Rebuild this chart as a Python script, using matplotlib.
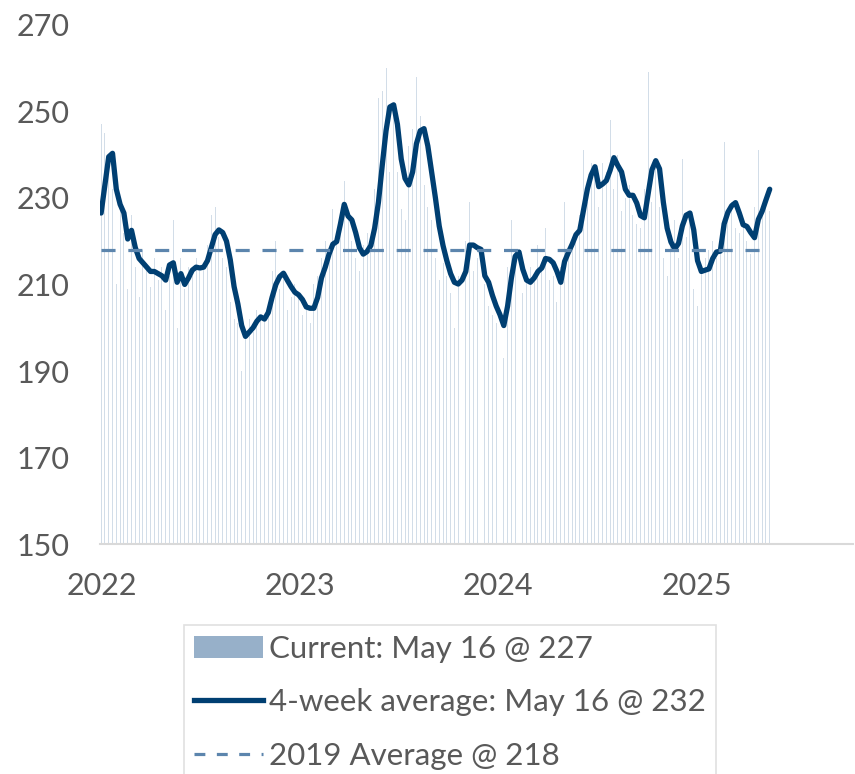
import numpy as np
import pandas as pd
import matplotlib
matplotlib.use("Agg")
import matplotlib.pyplot as plt
from matplotlib.patches import Patch
from matplotlib.lines import Line2D

plt.rcParams['font.family'] = ['Lato', 'DejaVu Sans']

# weekly dates, Dec 31 2021 -> May 16 2025
weeks = pd.date_range("2021-12-31", "2025-05-16", freq="7D")

# weekly readings (bars)
current = [
    247, 245, 238, 232, 210, 230, 222, 209, 226, 214,
    207, 218, 215, 209.5, 216, 211, 214, 204, 212, 225,
    200, 216, 209, 214, 212, 216, 213, 215, 219, 226,
    228, 221, 216, 214, 206, 202, 201, 190, 199, 202,
    199, 204, 203, 202, 206, 213, 220, 209, 212, 204,
    207, 210, 208, 203, 206, 201, 210, 212, 216, 220,
    218, 227.5, 219, 226, 234, 225, 220, 216, 213, 219,
    222, 218, 232, 253, 254.6, 260, 236, 250, 236, 227.5,
    225, 242, 246, 258, 249, 233, 228, 225, 216, 211,
    215, 212, 208, 200, 212, 214, 220, 229, 213, 216,
    207, 210, 205, 203, 201, 206, 193, 214, 225, 216,
    214, 208, 211, 214, 212, 219, 213, 223, 211, 212,
    206, 214, 229, 216, 221, 222, 226, 241, 229, 238,
    235, 228, 238, 236, 248, 232, 240, 227, 230, 233,
    226, 224, 223, 232, 259, 229, 237, 228, 216, 212,
    219, 225, 216, 239, 221, 226, 209, 205, 214, 216,
    218, 220, 216, 218, 243, 226, 229, 223, 222, 224,
    220, 217, 228, 241, 227, 229, 227,
]

# 4-week average (line)
avg4 = [
    226.5, 233, 239.5, 240.3, 232, 228.5, 226.5, 220.5, 222.5, 218.5,
    216, 215, 214, 213, 213, 212.5, 212, 211, 214.5, 215,
    210.5, 212.5, 210, 211.5, 213.3, 214, 213.8, 214, 215.5, 218.5,
    221.5, 222.6, 222, 220, 215.7, 209.5, 205.5, 200.5, 198, 199,
    200, 201.5, 202.5, 202, 203.5, 207, 210, 211.8, 212.6, 211,
    209.5, 208.2, 207.6, 206.5, 204.8, 204.5, 204.5, 207, 211.5, 214,
    217, 219.3, 219.9, 224, 228.5, 225.8, 224.9, 222, 218.5, 217,
    217.6, 219, 223, 229, 237.5, 245.5, 251, 251.5, 247, 239,
    234.5, 233, 236, 242.5, 245.5, 246, 242, 236, 230, 223.5,
    219, 215.5, 212.5, 210.5, 210.1, 211, 213, 219.1, 219.1, 218.5,
    218.1, 212, 210.5, 207.5, 205, 203, 200.5, 205, 211.5, 216.5,
    217.5, 213.5, 211, 210.5, 211.5, 213, 213.8, 216, 215.8, 215,
    213, 210.5, 215.3, 217.4, 219.3, 221.5, 222.5, 227.2, 232, 235.3,
    237.2, 232.6, 233.2, 234, 236.4, 239.3, 237.5, 236, 232, 230.6,
    230.6, 228.8, 225.9, 225.4, 231, 236.5, 238.6, 236.7, 229, 223,
    219.8, 218.2, 219.5, 223.5, 226, 226.5, 222.6, 215.5, 213, 213.3,
    213.6, 216, 217.5, 217.7, 224, 226.7, 228.2, 228.9, 226.5, 223.8,
    223.4, 222, 220.8, 225, 226.9, 229.5, 232,
]

avg_2019 = 218

legend_labels = ["Current: May 16 @ 227", "4-week average: May 16 @ 232", "2019 Average @ 218"]
year_ticks = ["2022-01-01", "2023-01-01", "2024-01-01", "2025-01-01"]
year_labels = ["2022", "2023", "2024", "2025"]

grey = "#595959"
bar_col = "#d2dde8"
navy = "#003f72"
dash_col = "#5c85ad"

fig = plt.figure(figsize=(8.55, 7.74), dpi=100)
ax = fig.add_axes([0.117, 0.297, 0.881, 0.671])

ax.bar(weeks, np.array(current) - 150, bottom=150, width=1.8, color=bar_col, linewidth=0)
ax.plot(weeks, avg4, color=navy, lw=3.8, solid_capstyle="round", solid_joinstyle="round")
ax.plot([weeks[0], weeks[-1]], [avg_2019, avg_2019], color=dash_col, lw=2.3,
        dashes=(4.4, 4.0))

ax.set_ylim(150, 270)
ax.set_yticks(np.arange(150, 271, 20))
ax.set_xlim(pd.Timestamp("2021-12-29"), pd.Timestamp("2025-10-17"))
ax.set_xticks([pd.Timestamp(d) for d in year_ticks])
ax.set_xticklabels(year_labels)

for s in ["top", "right", "left"]:
    ax.spines[s].set_visible(False)
ax.spines["bottom"].set_color("#d9d9d9")
ax.spines["bottom"].set_linewidth(1.5)
ax.tick_params(axis="both", length=0, labelsize=22, colors=grey)
ax.tick_params(axis="y", pad=22)
ax.tick_params(axis="x", pad=20)

handles = [
    Patch(facecolor="#97b0c9", edgecolor="none"),
    Line2D([], [], color=navy, lw=3.8),
    Line2D([], [], color=dash_col, lw=2.3, dashes=(3.4, 3.6)),
]
leg = fig.legend(handles, legend_labels, loc="upper left",
                 bbox_to_anchor=(0.215, 0.1926), frameon=True, fancybox=False,
                 fontsize=22.5, handlelength=2.2, handletextpad=0.2,
                 labelspacing=0.81, borderpad=0.32, borderaxespad=0)
leg.get_frame().set_edgecolor("#d9d9d9")
leg.get_frame().set_linewidth(1.2)
for t in leg.get_texts():
    t.set_color(grey)

fig.savefig("out.png", dpi=100)
